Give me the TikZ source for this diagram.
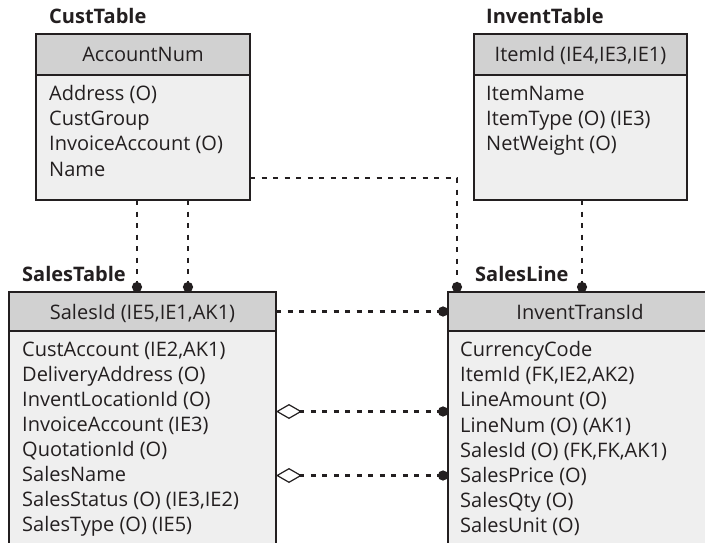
\documentclass[tikz,border=0pt]{standalone}
\usepackage{fontspec}
\setmainfont{Open Sans}
\usetikzlibrary{arrows.meta,calc}
\definecolor{ink}{HTML}{231F20}
\definecolor{headfill}{HTML}{D1D1D1}
\definecolor{bodyfill}{HTML}{EFEFEF}
\tikzset{
  tbox/.style={draw=ink, line width=2.4pt, anchor=north west, inner sep=0pt, outer sep=0pt},
  headbox/.style={tbox, fill=headfill},
  bodybox/.style={tbox, fill=bodyfill},
  rowtext/.style={anchor=base west, inner sep=0pt, text=ink, font=\fontsize{20}{22}\selectfont},
  headtext/.style={anchor=base, inner sep=0pt, text=ink, font=\fontsize{20}{22}\selectfont},
  titletext/.style={anchor=base west, inner sep=0pt, text=ink, font=\bfseries\fontsize{20}{22}\selectfont},
  conn/.style={draw=ink, line width=2.6pt, dash pattern=on 5pt off 6.5pt},
  dot/.style={-{Circle[length=10pt,width=10pt]}},
  diadot/.style={{Diamond[open,length=26pt,width=15pt,line width=1.2pt,fill=white]}-{Circle[length=10pt,width=10pt]}},
}
\begin{document}
\begin{tikzpicture}[x=1pt,y=-1pt]
\useasboundingbox (0,0) rectangle (705,543);
\clip (0,0) rectangle (705,543);
\fill[white] (0,0) rectangle (705,543);

% CustTable
\node[titletext] (custtitle) at (49,24) {CustTable};
\node[headbox, minimum width=214pt, minimum height=41pt] (custhead) at (36,34) {};
\node[bodybox, minimum width=214pt, minimum height=125pt] (custbody) at (36,75) {};
\node[headtext] (custkey) at (143,61.5) {AccountNum};
\foreach \t [count=\i] in {Address (O), CustGroup, InvoiceAccount (O), Name}
  \node[rowtext] (cust-\i) at ({49},{100+25.4*(\i-1)}) {\t};

% InventTable
\node[titletext] (inventtitle) at (486,24) {InventTable};
\node[headbox, minimum width=213pt, minimum height=41pt] (inventhead) at (474,34) {};
\node[bodybox, minimum width=213pt, minimum height=125pt] (inventbody) at (474,75) {};
\node[headtext] (inventkey) at (580.5,61.5) {ItemId (IE4,IE3,IE1)};
\foreach \t [count=\i] in {ItemName, ItemType (O) (IE3), NetWeight (O)}
  \node[rowtext] (invent-\i) at ({486},{100+25.4*(\i-1)}) {\t};

% SalesTable
\node[titletext] (salestitle) at (22,281.5) {SalesTable};
\node[headbox, minimum width=267pt, minimum height=39pt] (saleshead) at (9,292) {};
\node[bodybox, minimum width=267pt, minimum height=240pt] (salesbody) at (9,331) {};
\node[headtext] (saleskey) at (142.5,319) {SalesId (IE5,IE1,AK1)};
\foreach \t [count=\i] in {{CustAccount (IE2,AK1)}, DeliveryAddress (O), InventLocationId (O), InvoiceAccount (IE3), QuotationId (O), SalesName, {SalesStatus (O) (IE3,IE2)}, SalesType (O) (IE5)}
  \node[rowtext] (sales-\i) at ({22},{356.7+25.0*(\i-1)}) {\t};

% SalesLine
\node[titletext] (linetitle) at (475,281.5) {SalesLine};
\node[headbox, minimum width=264pt, minimum height=39pt] (linehead) at (448,292) {};
\node[bodybox, minimum width=264pt, minimum height=240pt] (linebody) at (448,331) {};
\node[headtext] (linekey) at (580,319) {InventTransId};
\foreach \t [count=\i] in {CurrencyCode, {ItemId (FK,IE2,AK2)}, LineAmount (O), LineNum (O) (AK1), {SalesId (O) (FK,FK,AK1)}, SalesPrice (O), SalesQty (O), SalesUnit (O)}
  \node[rowtext] (line-\i) at ({460},{356.7+25.1*(\i-1)}) {\t};

% connectors
\draw[conn, dot] ([xshift=101pt]custbody.south west) -- ([xshift=128pt]saleshead.north west);
\draw[conn, dot] ([xshift=152pt]custbody.south west) -- ([xshift=179pt]saleshead.north west);
\draw[conn, dot] ([yshift=-40.5pt]custbody.east) -| ([xshift=9pt]linehead.north west);
\draw[conn, dot] ([xshift=108pt]inventbody.south west) -- ([xshift=134pt]linehead.north west);
\draw[conn, dot] (saleshead.east) -- (linehead.west);
\draw[conn, diadot] ([yshift=39.5pt]salesbody.east) -- ([yshift=39.5pt]linebody.west);
\draw[conn, diadot] ([yshift=-24.5pt]salesbody.east) -- ([yshift=-24.5pt]linebody.west);
\end{tikzpicture}
\end{document}
